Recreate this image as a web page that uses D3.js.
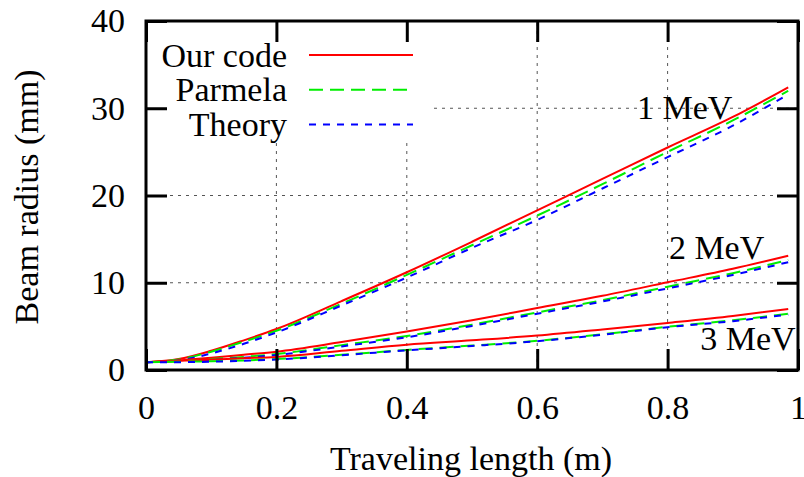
<!DOCTYPE html>
<html>
<head>
<meta charset="utf-8">
<script src="https://cdn.jsdelivr.net/npm/d3@7"></script>
<style>
  body { margin: 0; background: #fff; }
  svg text { font-family: "Liberation Serif", "Times New Roman", serif; font-size: 34px; fill: #000; }
</style>
</head>
<body>
<div id="chart"></div>
<script>
// traveling length (m)
const lengths = [0, 0.05, 0.1, 0.15, 0.2, 0.3, 0.4, 0.5, 0.6, 0.7, 0.8, 0.9, 0.985];

// beam radius (mm)
const ours1 = [0.9, 1.25, 2.2, 3.4, 4.7, 7.9, 11.2, 14.7, 18.3, 21.9, 25.5, 29.0, 32.4];
const parmela1 = [0.9, 1.2, 2.1, 3.25, 4.5, 7.6, 10.9, 14.3, 17.7, 21.3, 25.0, 28.6, 32.0];
const theory1 = [0.9, 1.1, 1.9, 3.0, 4.3, 7.4, 10.6, 14.0, 17.2, 20.8, 24.4, 28.0, 31.6];

const ours2 = [0.9, 1.1, 1.4, 1.75, 2.1, 3.2, 4.4, 5.7, 7.1, 8.5, 10.05, 11.6, 13.1];
const parmela2 = [0.9, 1.0, 1.25, 1.5, 1.83, 2.85, 3.9, 5.2, 6.6, 8.0, 9.55, 11.1, 12.6];
const theory2 = [0.9, 0.95, 1.15, 1.4, 1.72, 2.7, 3.75, 5.05, 6.45, 7.85, 9.35, 10.9, 12.35];

const ours3 = [0.9, 1.05, 1.2, 1.35, 1.5, 2.2, 2.9, 3.4, 3.95, 4.65, 5.4, 6.2, 7.0];
const parmela3 = [0.9, 0.95, 1.0, 1.1, 1.25, 1.75, 2.3, 2.8, 3.35, 4.1, 4.95, 5.7, 6.45];
const theory3 = [0.9, 0.9, 0.95, 1.05, 1.2, 1.7, 2.25, 2.75, 3.3, 4.05, 4.9, 5.6, 6.35];

const seriesNames = ["Our code", "Parmela", "Theory"];
const xTicks = [0, 0.2, 0.4, 0.6, 0.8, 1];
const yTicks = [0, 10, 20, 30, 40];
const energyLabels = ["1 MeV", "2 MeV", "3 MeV"];
const energyLabelPos = [[0.753, 28.8], [0.802, 12.7], [0.85, 2.3]];

const width = 804;
const height = 477;

const styles = [
  { color: "#ff0000", dash: null },
  { color: "#00ee00", dash: "14,7" },
  { color: "#0000ff", dash: "7,7" }
];

const svg = d3.select("#chart")
  .append("svg")
  .attr("width", width)
  .attr("height", height);

const x = d3.scaleLinear().domain([0, 1]).range([146, 798]);
const y = d3.scaleLinear().domain([0, 40]).range([370, 21]);

// grid
const grid = svg.append("g")
  .attr("stroke", "#555")
  .attr("stroke-width", 1)
  .attr("stroke-dasharray", "3,5");

grid.selectAll(".vg")
  .data(xTicks.slice(1, -1))
  .join("line")
  .attr("x1", d => x(d)).attr("x2", d => x(d))
  .attr("y1", y(0)).attr("y2", y(40));

grid.selectAll(".hg")
  .data(yTicks.slice(1, -1))
  .join("line")
  .attr("x1", x(0)).attr("x2", x(1))
  .attr("y1", d => y(d)).attr("y2", d => y(d));

// legend background hides grid under the key
svg.append("rect")
  .attr("x", x(0) + 1)
  .attr("y", y(40) + 1)
  .attr("width", 286)
  .attr("height", 119)
  .attr("fill", "#fff");

// curves
svg.append("clipPath").attr("id", "plot-clip")
  .append("rect")
  .attr("x", x(0)).attr("y", y(40))
  .attr("width", x(1) - x(0)).attr("height", y(0) - y(40));

const line = d3.line()
  .x((d, i) => x(lengths[i]))
  .y(d => y(d))
  .curve(d3.curveMonotoneX);

const groups = [
  [ours1, parmela1, theory1],
  [ours2, parmela2, theory2],
  [ours3, parmela3, theory3]
];

const curves = svg.append("g").attr("clip-path", "url(#plot-clip)");
groups.forEach(group => {
  group.forEach((values, k) => {
    curves.append("path")
      .attr("d", line(values))
      .attr("fill", "none")
      .attr("stroke", styles[k].color)
      .attr("stroke-width", 2)
      .attr("stroke-dasharray", styles[k].dash);
  });
});

// energy labels
svg.selectAll(".energy")
  .data(energyLabels)
  .join("text")
  .attr("x", (d, i) => x(energyLabelPos[i][0]))
  .attr("y", (d, i) => y(energyLabelPos[i][1]))
  .text(d => d);

// legend
const legend = svg.append("g");
seriesNames.forEach((name, k) => {
  const ly = 55 + k * 34.7;
  legend.append("text")
    .attr("x", 287)
    .attr("y", ly + 11.5)
    .attr("text-anchor", "end")
    .text(name);
  legend.append("line")
    .attr("x1", 309).attr("x2", 413)
    .attr("y1", ly).attr("y2", ly)
    .attr("stroke", styles[k].color)
    .attr("stroke-width", 2)
    .attr("stroke-dasharray", styles[k].dash);
});

// axes with inward ticks
const tickLen = 21;

const bottom = svg.append("g")
  .attr("transform", `translate(0,${y(0)})`)
  .call(d3.axisBottom(x).tickValues(xTicks).tickSize(-tickLen).tickPadding(25)
    .tickFormat(d3.format("~g")));
bottom.selectAll("text").attr("font-size", null).attr("font-family", null);

const left = svg.append("g")
  .attr("transform", `translate(${x(0)},0)`)
  .call(d3.axisLeft(y).tickValues(yTicks).tickSize(-tickLen).tickPadding(21));
left.selectAll("text").attr("font-size", null).attr("font-family", null);

svg.append("g")
  .attr("transform", `translate(0,${y(40)})`)
  .call(d3.axisTop(x).tickValues(xTicks).tickSize(-tickLen).tickFormat(""));

svg.append("g")
  .attr("transform", `translate(${x(1)},0)`)
  .call(d3.axisRight(y).tickValues(yTicks).tickSize(-tickLen).tickFormat(""));

svg.selectAll(".domain").remove();
svg.selectAll(".tick line").attr("stroke", "#000").attr("stroke-width", 3);

svg.append("rect")
  .attr("x", x(0)).attr("y", y(40))
  .attr("width", x(1) - x(0)).attr("height", y(0) - y(40))
  .attr("fill", "none")
  .attr("stroke", "#000")
  .attr("stroke-width", 3);

// axis titles
svg.append("text")
  .attr("x", 471)
  .attr("y", 470)
  .attr("text-anchor", "middle")
  .text("Traveling length (m)");

svg.append("text")
  .attr("transform", "translate(38,197) rotate(-90)")
  .attr("text-anchor", "middle")
  .text("Beam radius (mm)");
</script>
</body>
</html>
